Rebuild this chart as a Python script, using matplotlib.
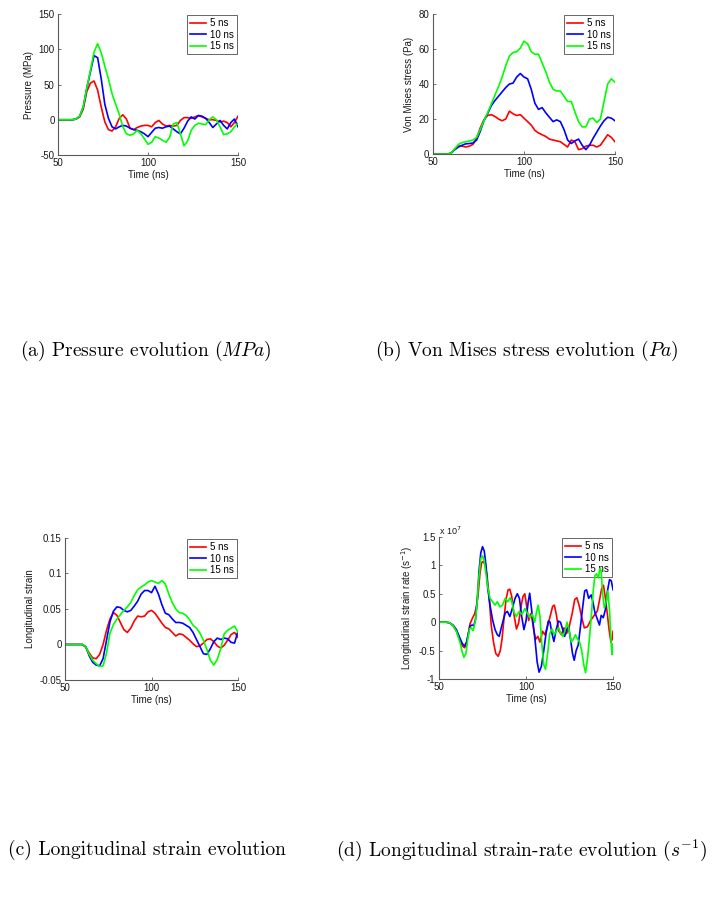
import numpy as np
import matplotlib
matplotlib.use('Agg')
import matplotlib.pyplot as plt
from matplotlib.ticker import FuncFormatter

plt.rcParams['font.family'] = 'Liberation Sans'
plt.rcParams['mathtext.fontset'] = 'cm'

############################################################
# data (time in ns)
t_grid = np.arange(50, 151, 2)

# (a) pressure, MPa
p_5ns = [0, 0, 0, 0, 0, 1, 4, 15, 40, 52, 55, 42, 18, -3, -14, -16, -10, 2, 7, 1,
         -12, -14, -11, -9, -8, -8, -10, -4, -1, -6, -9, -8, -9, -8, -1, 3, 3, 2, 4, 6,
         4, 2, 0, 0, -1, -3, -2, -4, -10, -4, 5]
p_10ns = [0, 0, 0, 0, 0, 1, 5, 18, 45, 68, 91, 88, 58, 22, 2, -10, -13, -10, -8, -9,
          -12, -14, -15, -17, -20, -24, -18, -12, -11, -12, -10, -9, -13, -17, -20,
          -12, -2, 4, 1, 6, 5, 2, -4, -11, -6, -1, -8, -13, -4, 1, -10]
p_15ns = [0, 0, 0, 0, 0, 1, 5, 18, 45, 70, 96, 108, 95, 76, 58, 37, 22, 8, -10, -20,
          -22, -20, -15, -20, -27, -35, -32, -24, -26, -29, -32, -25, -6, -4, -20,
          -37, -30, -15, -8, -5, -6, -7, 0, 4, 0, -10, -21, -20, -17, -10, -5]

# (b) von Mises stress, Pa
vm_5ns = [0, 0, 0, 0, 0, 0.5, 3, 4.5, 4.5, 4, 4.5, 5.5, 9, 15, 19.5, 22, 22.5, 21.5, 20, 19,
          20, 24.5, 23, 22, 22.5, 20.5, 18.5, 16.5, 13.5, 12, 11, 10, 8.5, 8, 7.5,
          7, 5.5, 4, 8, 7, 2.5, 3, 4.5, 5, 5, 4, 5, 8, 11, 9.5, 7]
vm_10ns = [0, 0, 0, 0, 0, 0.5, 2.5, 4, 5, 5.8, 6, 6.3, 8, 13, 19, 23, 27.5, 30.5, 33, 35.5,
           38, 40, 40.5, 44, 46, 44, 43, 37, 29, 25.5, 26.5, 23.5, 21, 18.5, 19.5,
           18.5, 14, 8, 6, 7.5, 8.5, 5, 2.5, 5, 9, 12.5, 16, 19, 21, 20.5, 19]
vm_15ns = [0, 0, 0, 0, 0, 0.5, 3, 5.5, 6.5, 7, 7.5, 8, 9.5, 14, 19, 23.5, 28.5, 33.5, 38.5, 44,
           50.5, 56, 58, 58.5, 60.5, 64.5, 63, 58.5, 57, 57, 52, 47, 41, 37, 36,
           36, 33, 30, 30, 24, 18.5, 15.5, 15.5, 20, 20.5, 18, 20, 30, 40, 43, 41]

# (c) longitudinal strain
st_5ns = [0, 0, 0, 0, 0, 0, -0.004, -0.012, -0.019, -0.020, -0.014, 0.000, 0.020, 0.036, 0.045,
          0.041, 0.031, 0.021, 0.017, 0.023, 0.033, 0.040, 0.039, 0.040, 0.046,
          0.048, 0.044, 0.037, 0.030, 0.024, 0.022, 0.017, 0.012, 0.015, 0.014,
          0.010, 0.006, 0.001, -0.003, -0.002, 0.002, 0.007, 0.008, 0.004, -0.002,
          -0.005, -0.001, 0.006, 0.014, 0.017, 0.010]
st_10ns = [0, 0, 0, 0, 0, 0, -0.003, -0.016, -0.025, -0.029, -0.030, -0.020, 0.006, 0.032, 0.047,
           0.053, 0.052, 0.048, 0.046, 0.048, 0.054, 0.061, 0.071, 0.076, 0.076,
           0.073, 0.082, 0.071, 0.056, 0.044, 0.042, 0.036, 0.031, 0.031, 0.030,
           0.027, 0.024, 0.017, 0.007, -0.003, -0.013, -0.014, -0.006, 0.004, 0.009,
           0.007, 0.009, 0.008, 0.003, 0.002, 0.019]
st_15ns = [0, 0, 0, 0, 0, 0, -0.003, -0.014, -0.022, -0.027, -0.031, -0.030, -0.012, 0.016, 0.028,
           0.036, 0.042, 0.048, 0.053, 0.059, 0.069, 0.077, 0.081, 0.084, 0.088,
           0.090, 0.088, 0.086, 0.090, 0.085, 0.071, 0.059, 0.050, 0.045, 0.044,
           0.041, 0.035, 0.027, 0.023, 0.016, 0.006, -0.007, -0.022, -0.029, -0.021,
           -0.006, 0.015, 0.020, 0.023, 0.026, 0.017]

# (d) longitudinal strain rate, units of 1e7 1/s
rt_t_5ns = [50, 54, 56, 58, 60, 62, 63.5, 64.7, 65.8, 66.8, 67.8, 69.2, 70.5, 71.5, 72.5,
            73.5, 74.5, 75.5, 76.5, 77.5, 78.8, 80, 81.3, 82.6, 84, 85.2, 86.2, 87.3, 88.5,
            89.7, 90.7, 91.8, 93, 94.5, 95.7, 97, 98.2, 99.3, 100.5, 101.5, 102.7, 103.5,
            104.5, 105.5, 106.8, 108, 109.5, 110.8, 112.3, 114, 115.3, 116.3, 117.5, 118.8,
            120.3, 121.8, 123.3, 124.8, 126.5, 128, 129.2, 130.5, 132, 133.5, 135.3, 137.3,
            139.2, 141, 142.3, 143.5, 144.5, 145.5, 146.7, 147.8, 148.8, 149.5, 150]
rt_5ns = [0, 0, -0.01, -0.06, -0.16, -0.32, -0.42, -0.45, -0.38, -0.22, -0.03, 0.07, 0.15, 0.28, 0.5,
          0.85, 1.05, 1.07, 1.0, 0.85, 0.45, -0.05, -0.35, -0.55, -0.6, -0.5, -0.3, 0.05, 0.4,
          0.57, 0.58, 0.45, 0.15, -0.12, -0.02, 0.25, 0.45, 0.5, 0.25, 0.03, 0.15, 0.05,
          -0.15, -0.3, -0.25, -0.35, -0.16, -0.22, -0.08, 0.12, 0.28, 0.3, 0.12, -0.15,
          -0.22, -0.1, -0.2, -0.08, 0.15, 0.4, 0.43, 0.3, 0.08, -0.1, -0.08, 0.04,
          0.12, 0.2, 0.4, 0.6, 0.65, 0.45, 0.15, -0.15, -0.35, -0.3, -0.16]
rt_t_10ns = [50, 54, 56, 58, 60, 62, 63.5, 64.7, 65.8, 66.8, 67.8, 69, 70, 71, 72, 73, 74, 75, 76, 77,
             78, 79.3, 80.8, 82.2, 83.5, 84.6, 85.6, 86.6, 88, 89.3, 90.7, 92.2, 93.7, 95, 96.2,
             97.5, 98.8, 100, 101.2, 102.1, 103.1, 104.2, 105.3, 106.4, 107.5, 108.8, 110.2,
             111.5, 112.8, 113.8, 114.8, 116, 117.2, 118.6, 119.8, 121, 122.2, 123.4, 124.4,
             125.6, 126.7, 127.7, 128.8, 130, 131.2, 132.5, 133.7, 134.8, 136, 137.4, 138.5,
             139.5, 140.8, 142.2, 143.2, 144.4, 145.6, 146.8, 148, 149, 150]
rt_10ns = [0, 0, -0.01, -0.05, -0.13, -0.28, -0.38, -0.42, -0.35, -0.2, -0.07, -0.05, -0.06, 0.05, 0.4,
           0.9, 1.22, 1.33, 1.25, 1.0, 0.6, 0.3, 0.04, -0.13, -0.22, -0.25, -0.12, 0.0, 0.16, 0.19,
           0.1, 0.25, 0.42, 0.5, 0.42, 0.1, -0.13, 0.02, 0.35, 0.51, 0.25, -0.05, -0.35, -0.7,
           -0.88, -0.78, -0.5, -0.2, 0.02, 0.0, -0.18, -0.34, -0.15, 0.02, 0.0, -0.12, -0.25,
           -0.12, -0.08, -0.3, -0.55, -0.67, -0.5, -0.4, -0.1, 0.25, 0.55, 0.57, 0.42, 0.48,
           0.35, 0.18, 0.07, -0.05, 0.12, 0.08, 0.22, 0.55, 0.75, 0.73, 0.57]
rt_t_15ns = [50, 54, 56, 58, 60, 62, 63.3, 64.3, 65.5, 66.5, 67.5, 68.5, 69.6, 70.8, 71.8, 72.8, 74, 75,
             76, 77, 78, 79.3, 80.8, 82.2, 83.5, 85, 86.5, 88, 89.5, 90.8, 92, 93, 94.5, 96, 97.7,
             99.3, 100.7, 102.2, 103.6, 105, 106, 107, 108, 109, 110.2, 111.2, 112.4, 113.6, 115,
             116.2, 117.5, 118.8, 120, 121.2, 122.4, 123.6, 124.8, 126, 127.2, 128.4, 129.6,
             130.8, 132, 133.2, 134.2, 135.3, 136.4, 137.5, 138.6, 139.6, 140.5, 141.5, 142.5,
             143.2, 144, 145, 146, 147, 148, 149, 149.5, 150]
rt_15ns = [0, 0, -0.01, -0.06, -0.16, -0.35, -0.52, -0.62, -0.55, -0.3, -0.12, -0.1, -0.15, 0.0, 0.3,
           0.75, 1.12, 1.17, 1.08, 0.85, 0.62, 0.42, 0.36, 0.3, 0.36, 0.27, 0.3, 0.42, 0.36, 0.43,
           0.35, 0.18, 0.1, 0.19, 0.14, 0.24, 0.16, 0.08, 0.14, 0.0, 0.18, 0.3, 0.1, -0.35, -0.75,
           -0.83, -0.55, -0.2, -0.12, -0.22, -0.15, -0.1, -0.2, -0.25, -0.15, 0.0, -0.15, -0.35,
           -0.3, -0.22, -0.3, -0.35, -0.5, -0.75, -0.89, -0.65, -0.3, 0.1, 0.55, 0.82, 0.85,
           0.78, 0.95, 0.9, 0.5, 0.25, 0.35, 0.55, 0.2, -0.4, -0.57, -0.38]

labels = ['5 ns', '10 ns', '15 ns']
colors = ['#ff0000', '#0000ff', '#00ff00']

############################################################
fig = plt.figure(figsize=(7.12, 8.99), dpi=100)

fmt = FuncFormatter(lambda v, pos: '%g' % v)


def style(ax, yticks, ylabel):
    for s in ['top', 'right']:
        ax.spines[s].set_visible(False)
    for s in ['left', 'bottom']:
        ax.spines[s].set_color('0.35')
        ax.spines[s].set_linewidth(0.8)
    ax.tick_params(direction='in', length=2.5, width=0.6, color='0.35',
                   labelcolor='0.1', labelsize=7, pad=2.5)
    ax.set_xlim(50, 150)
    ax.set_xticks([50, 100, 150])
    ax.set_ylim(yticks[0], yticks[-1])
    ax.set_yticks(yticks)
    ax.xaxis.set_major_formatter(fmt)
    ax.yaxis.set_major_formatter(fmt)
    ax.set_xlabel('Time (ns)', fontsize=7, color='0.1', labelpad=1)
    ax.set_ylabel(ylabel, fontsize=7, color='0.1', labelpad=3)
    leg = ax.legend(loc='upper right', fontsize=7, handlelength=1.6, handletextpad=0.4,
                    labelspacing=0.15, borderpad=0.3, borderaxespad=0.15,
                    fancybox=False, edgecolor='0.4', framealpha=1)
    leg.get_frame().set_linewidth(0.7)
    leg.set_zorder(1)


ax = fig.add_axes([0.0815, 0.8276, 0.2528, 0.1568])
for y, c, l in zip([p_5ns, p_10ns, p_15ns], colors, labels):
    ax.plot(t_grid, y, color=c, lw=1.2, label=l)
style(ax, [-50, 0, 50, 100, 150], 'Pressure (MPa)')

ax = fig.add_axes([0.6081, 0.8287, 0.2556, 0.1557])
for y, c, l in zip([vm_5ns, vm_10ns, vm_15ns], colors, labels):
    ax.plot(t_grid, y, color=c, lw=1.2, label=l)
style(ax, [0, 20, 40, 60, 80], 'Von Mises stress (Pa)')

ax = fig.add_axes([0.0913, 0.2436, 0.2430, 0.1580])
for y, c, l in zip([st_5ns, st_10ns, st_15ns], colors, labels):
    ax.plot(t_grid, y, color=c, lw=1.2, label=l)
style(ax, [-0.05, 0, 0.05, 0.1, 0.15], 'Longitudinal strain')

ax = fig.add_axes([0.6166, 0.2447, 0.2444, 0.1580])
for tt, y, c, l in zip([rt_t_5ns, rt_t_10ns, rt_t_15ns], [rt_5ns, rt_10ns, rt_15ns], colors, labels):
    ax.plot(tt, y, color=c, lw=1.2, label=l)
style(ax, [-1, -0.5, 0, 0.5, 1, 1.5], 'Longitudinal strain rate (s$^{-1}$)')
ax.yaxis.label.set_math_fontfamily('dejavusans')
ax.text(0.0, 1.0, 'x 10$^{7}$', transform=ax.transAxes, fontsize=6.5, color='0.1',
        ha='left', va='bottom', math_fontfamily='dejavusans')

# sub-captions
cap = dict(fontsize=14, family='cmr10', ha='center', va='center')
fig.text(0.204, 0.6096, '(a) Pressure evolution ($MPa$)', **cap)
fig.text(0.740, 0.6096, '(b) Von Mises stress evolution ($Pa$)', **cap)
fig.text(0.2065, 0.0545, '(c) Longitudinal strain evolution', **cap)
fig.text(0.733, 0.0545, '(d) Longitudinal strain-rate evolution ($s^{-1}$)', **cap)

fig.savefig('out.png', dpi=100)
